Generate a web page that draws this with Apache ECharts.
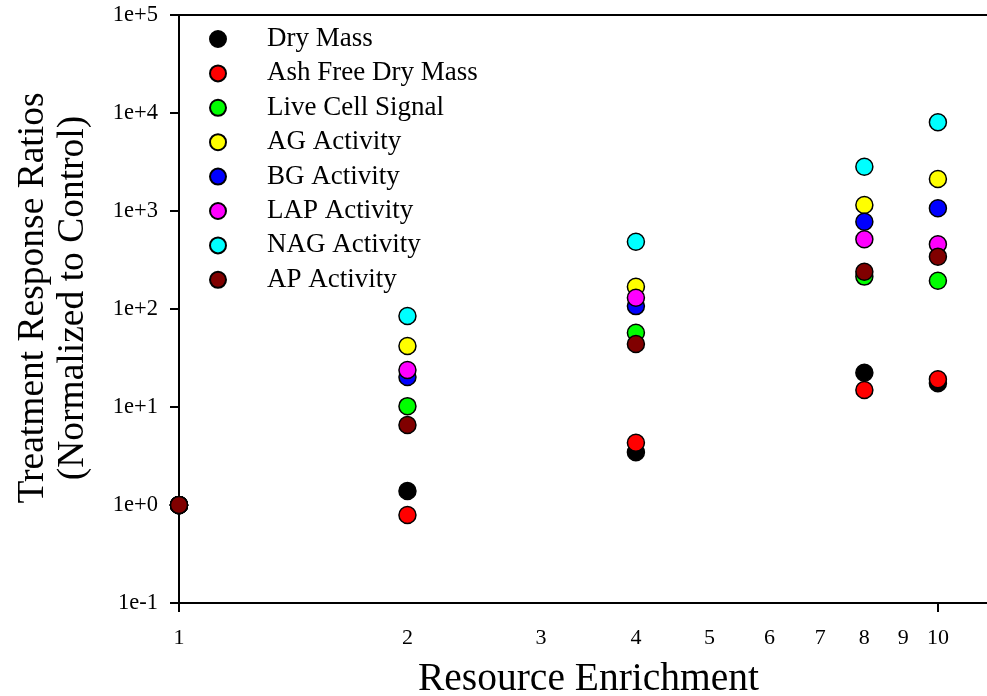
<!DOCTYPE html>
<html>
<head>
<meta charset="utf-8">
<script src="https://cdn.jsdelivr.net/npm/echarts@6/dist/echarts.min.js"></script>
<style>
html,body{margin:0;padding:0;background:#fff;}
#chart{width:987px;height:696px;}
</style>
</head>
<body>
<div id="chart"></div>
<script>
const xValues = [1, 2, 4, 8, 10];
const seriesNames = ['Dry Mass','Ash Free Dry Mass','Live Cell Signal','AG Activity','BG Activity','LAP Activity','NAG Activity','AP Activity'];
const seriesColors = ['#000000','#ff0000','#00ff00','#ffff00','#0000ff','#ff00ff','#00ffff','#800000'];
const dryMass        = [1, 1.39, 3.45, 22.4, 17.5];
const ashFreeDryMass = [1, 0.79, 4.32, 14.9, 19.2];
const liveCellSignal = [1, 10.2, 57.3, 214, 194];
const agActivity     = [1, 41.9, 169, 1151, 2122];
const bgActivity     = [1, 20.2, 107, 778, 1065];
const lapActivity    = [1, 23.9, 130, 514, 457];
const nagActivity    = [1, 84.8, 486, 2832, 8037];
const apActivity     = [1, 6.55, 44, 240, 342];
const xTickLabels = [1, 2, 3, 4, 5, 6, 7, 8, 9, 10];
const xMajorTicks = [1, 10];
const allValues = [dryMass, ashFreeDryMass, liveCellSignal, agActivity, bgActivity, lapActivity, nagActivity, apActivity];

const FONT = "'Liberation Serif','Times New Roman',serif";
const chart = echarts.init(document.getElementById('chart'));

const series = seriesNames.map((name, i) => ({
  name: name,
  type: 'scatter',
  clip: false,
  symbol: 'circle',
  symbolSize: 17,
  itemStyle: { color: seriesColors[i], borderColor: '#000', borderWidth: 1.5, opacity: 1 },
  emphasis: { disabled: true },
  data: xValues.map((x, j) => [x, allValues[i][j]])
}));

chart.setOption({
  animation: false,
  backgroundColor: '#fff',
  textStyle: { fontFamily: FONT },
  grid: { left: 179, top: 15, bottom: 93, width: 819, containLabel: false, outerBoundsMode: 'none' },
  legend: {
    orient: 'vertical',
    left: 204,
    top: 20.5,
    itemWidth: 16,
    itemHeight: 16,
    itemGap: 7.4,
    icon: 'circle',
    selectedMode: false,
    textStyle: { fontFamily: FONT, fontSize: 27, color: '#000', lineHeight: 27, padding: [0, 0, 0, 36] },
    data: seriesNames
  },
  xAxis: [{
    type: 'log',
    logBase: 10,
    min: 1,
    max: 12,
    name: 'Resource Enrichment',
    nameLocation: 'middle',
    nameGap: 57,
    nameTextStyle: { fontFamily: FONT, fontSize: 39.5, color: '#000' },
    axisLine: { show: true, lineStyle: { color: '#000', width: 2 } },
    axisTick: { show: true, inside: false, length: 9, lineStyle: { color: '#000', width: 2 }, customValues: xMajorTicks },
    minorTick: { show: false },
    axisLabel: { show: true, customValues: xTickLabels, fontFamily: FONT, fontSize: 22, color: '#000', margin: 24, formatter: v => String(Math.round(v)) },
    splitLine: { show: false }
  }, {
    type: 'log',
    position: 'top',
    min: 1,
    max: 12,
    axisLine: { show: true, lineStyle: { color: '#000', width: 2 } },
    axisTick: { show: false },
    axisLabel: { show: false },
    splitLine: { show: false }
  }],
  yAxis: {
    type: 'log',
    logBase: 10,
    min: 0.1,
    max: 100000,
    name: 'Treatment Response Ratios\n(Normalized to Control)',
    nameLocation: 'middle',
    nameRotate: 90,
    nameGap: 86,
    nameTextStyle: { fontFamily: FONT, fontSize: 37.5, color: '#000', lineHeight: 40, padding: [0, 0, 0, 22] },
    axisLine: { show: true, lineStyle: { color: '#000', width: 2 } },
    axisTick: { show: true, inside: false, length: 9, lineStyle: { color: '#000', width: 2 } },
    minorTick: { show: false },
    axisLabel: {
      fontFamily: FONT, fontSize: 22.5, color: '#000', margin: 21,
      formatter: v => { const e = Math.round(Math.log10(v)); return '1e' + (e >= 0 ? '+' : '') + e; }
    },
    splitLine: { show: false }
  },
  series: series
});
</script>
</body>
</html>
